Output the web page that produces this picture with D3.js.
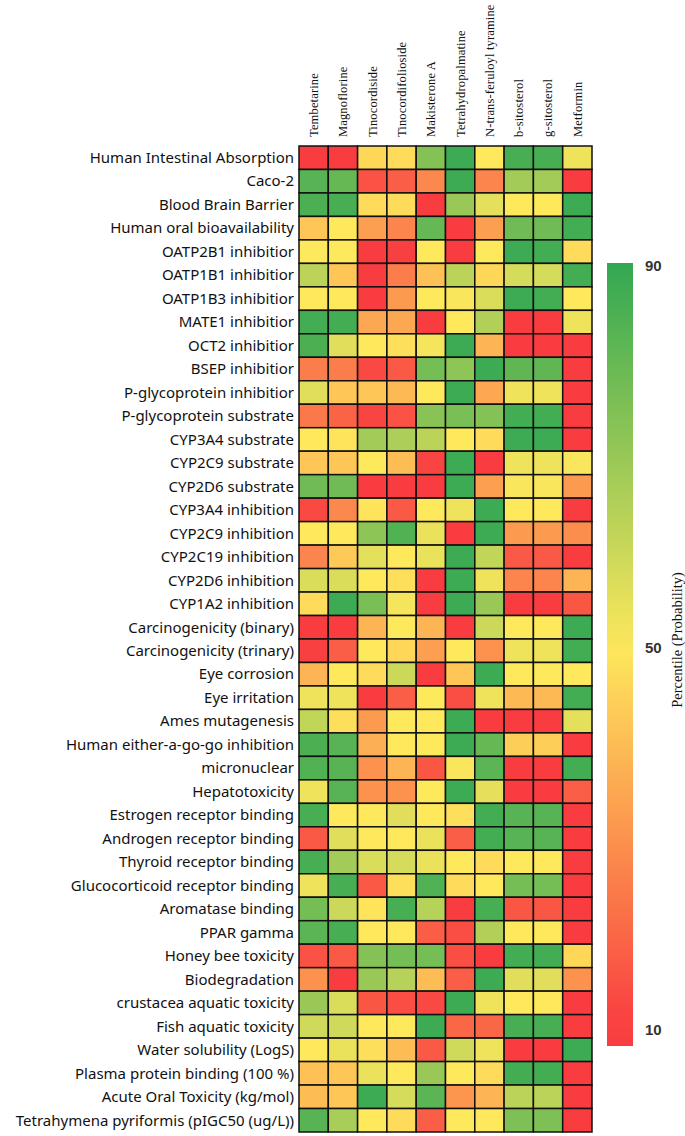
<!DOCTYPE html>
<html><head><meta charset="utf-8">
<script src="https://cdn.jsdelivr.net/npm/d3@7"></script>
<style>body{margin:0;background:#fff}svg{display:block}</style>
</head><body>
<svg id="chart" width="685" height="1136"></svg>
<script>
const compounds = ["Tembetarine","Magnoflorine","Tinocordiside","Tinocordifolioside","Makisterone A","Tetrahydropalmatine","N-trans-feruloyl tyramine","b-sitosterol","g-sitosterol","Metformin"];
const properties = ["Human Intestinal Absorption","Caco-2","Blood Brain Barrier","Human oral bioavailability","OATP2B1 inhibitior","OATP1B1 inhibitior","OATP1B3 inhibitior","MATE1 inhibitior","OCT2 inhibitior","BSEP inhibitior","P-glycoprotein inhibitior","P-glycoprotein substrate","CYP3A4 substrate","CYP2C9 substrate","CYP2D6 substrate","CYP3A4 inhibition","CYP2C9 inhibition","CYP2C19 inhibition","CYP2D6 inhibition","CYP1A2 inhibition","Carcinogenicity (binary)","Carcinogenicity (trinary)","Eye corrosion","Eye irritation","Ames mutagenesis","Human either-a-go-go inhibition","micronuclear","Hepatotoxicity","Estrogen receptor binding","Androgen receptor binding","Thyroid receptor binding","Glucocorticoid receptor binding","Aromatase binding","PPAR gamma","Honey bee toxicity","Biodegradation","crustacea aquatic toxicity","Fish aquatic toxicity","Water solubility (LogS)","Plasma protein binding (100 %)","Acute Oral Toxicity (kg/mol)","Tetrahymena pyriformis (pIGC50 (ug/L))"];
// percentile values, one row per property, columns follow compounds
const values = [
[10,10,46,47,74,88,50,86,86,53],
[83,80,15,18,28,88,27,68,68,10],
[85,86,47,47,10,70,55,50,50,88],
[42,50,33,27,80,10,33,78,78,87],
[50,50,10,11,50,10,50,88,87,47],
[63,42,10,25,41,63,46,58,58,87],
[50,50,10,32,50,51,57,88,87,50],
[87,87,35,35,10,50,65,10,10,53],
[85,56,50,48,52,88,38,10,10,10],
[25,25,13,17,77,72,88,81,81,10],
[56,42,42,39,50,88,35,53,53,10],
[24,19,12,15,73,76,74,87,87,10],
[50,49,68,66,63,50,47,88,88,10],
[42,42,50,40,12,88,10,53,53,51],
[78,78,10,10,10,88,33,51,51,32],
[13,28,49,17,50,53,88,50,50,10],
[50,50,72,84,54,10,88,32,32,29],
[27,43,55,50,54,88,62,17,17,10],
[57,57,50,48,10,88,53,27,27,38],
[47,88,76,52,10,88,70,10,10,16],
[10,10,38,50,38,10,60,50,50,88],
[11,18,50,46,33,50,30,53,53,87],
[38,50,47,60,10,42,88,50,50,50],
[53,53,10,18,50,14,53,39,39,87],
[62,48,32,50,50,88,10,10,10,55],
[85,83,37,50,50,88,80,44,44,10],
[84,83,30,38,16,51,82,10,10,87],
[53,83,30,30,50,88,55,10,10,18],
[86,50,50,56,50,48,87,83,83,10],
[17,56,50,50,54,18,87,83,83,10],
[86,68,57,58,54,50,47,50,50,10],
[53,86,17,48,84,47,50,77,77,10],
[77,60,49,86,64,10,86,16,16,10],
[82,86,50,50,18,14,65,50,50,10],
[15,17,74,77,77,14,10,87,87,46],
[30,10,70,64,40,18,88,56,56,30],
[70,57,16,14,13,88,53,50,50,10],
[59,59,50,50,88,20,20,86,86,10],
[50,54,48,40,17,59,53,10,10,88],
[41,42,54,50,70,50,47,87,87,10],
[40,42,88,58,82,31,38,63,63,10],
[83,67,50,47,18,50,50,75,75,10]
];
const legendTicks = [10,50,90];
const legendTitle = "Percentile (Probability)";

const svg = d3.select("#chart");
const color = d3.scaleLinear().domain([10,50,90]).range(["#f93c40","#fee85c","#33a852"]).clamp(true);

const x = d3.scaleBand().domain(compounds).range([299,592]);
const y = d3.scaleBand().domain(properties).range([146,1132]);

const cells = [];
properties.forEach((p,i)=>compounds.forEach((c,j)=>cells.push({p,c,v:values[i][j]})));

svg.append("g").selectAll("rect").data(cells).join("rect")
  .attr("x",d=>x(d.c)).attr("y",d=>y(d.p))
  .attr("width",x.bandwidth()).attr("height",y.bandwidth())
  .attr("fill",d=>color(d.v))
  .attr("stroke","#111").attr("stroke-width",1.5);

// column labels
svg.append("g").selectAll("text").data(compounds).join("text")
  .attr("transform",d=>`translate(${x(d)+x.bandwidth()/2},137) rotate(-90)`)
  .attr("dy","0.35em").attr("text-anchor","start")
  .attr("font-family","'Liberation Serif','DejaVu Serif',serif").attr("font-size",12.5)
  .attr("letter-spacing",0.15)
  .attr("fill","#111").text(d=>d);

// row labels
svg.append("g").selectAll("text").data(properties).join("text")
  .attr("x",294).attr("y",d=>y(d)+y.bandwidth()/2)
  .attr("dy","0.35em").attr("text-anchor","end")
  .attr("font-family","'Noto Sans','Liberation Sans',sans-serif").attr("font-size",15)
  .attr("fill","#111").text(d=>d);

// color legend
const ly = d3.scaleLinear().domain([10,90]).range([1030,266]);
const defs = svg.append("defs");
const grad = defs.append("linearGradient").attr("id","lg").attr("x1",0).attr("x2",0).attr("y1",1).attr("y2",0);
const barTop = ly(90)-3, barBot = ly(10)+16;
d3.range(0,1.0001,0.05).forEach(t=>{
  const v = ly.invert(barBot - t*(barBot-barTop));
  grad.append("stop").attr("offset",t).attr("stop-color",color(v));
});
svg.append("rect").attr("x",607).attr("y",barTop).attr("width",26).attr("height",barBot-barTop).attr("fill","url(#lg)");
svg.append("g").selectAll("text").data(legendTicks).join("text")
  .attr("x",645).attr("y",d=>ly(d)).attr("dy","0.35em")
  .attr("font-family","'Liberation Sans',Arial,sans-serif").attr("font-size",15).attr("font-weight","bold")
  .attr("fill","#333").text(d=>d);
svg.append("text").attr("transform","translate(677,640) rotate(-90)")
  .attr("text-anchor","middle").attr("dy","0.35em")
  .attr("font-family","'Liberation Serif','DejaVu Serif',serif").attr("font-size",14.5)
  .attr("fill","#111").text(legendTitle);
</script>
</body></html>
